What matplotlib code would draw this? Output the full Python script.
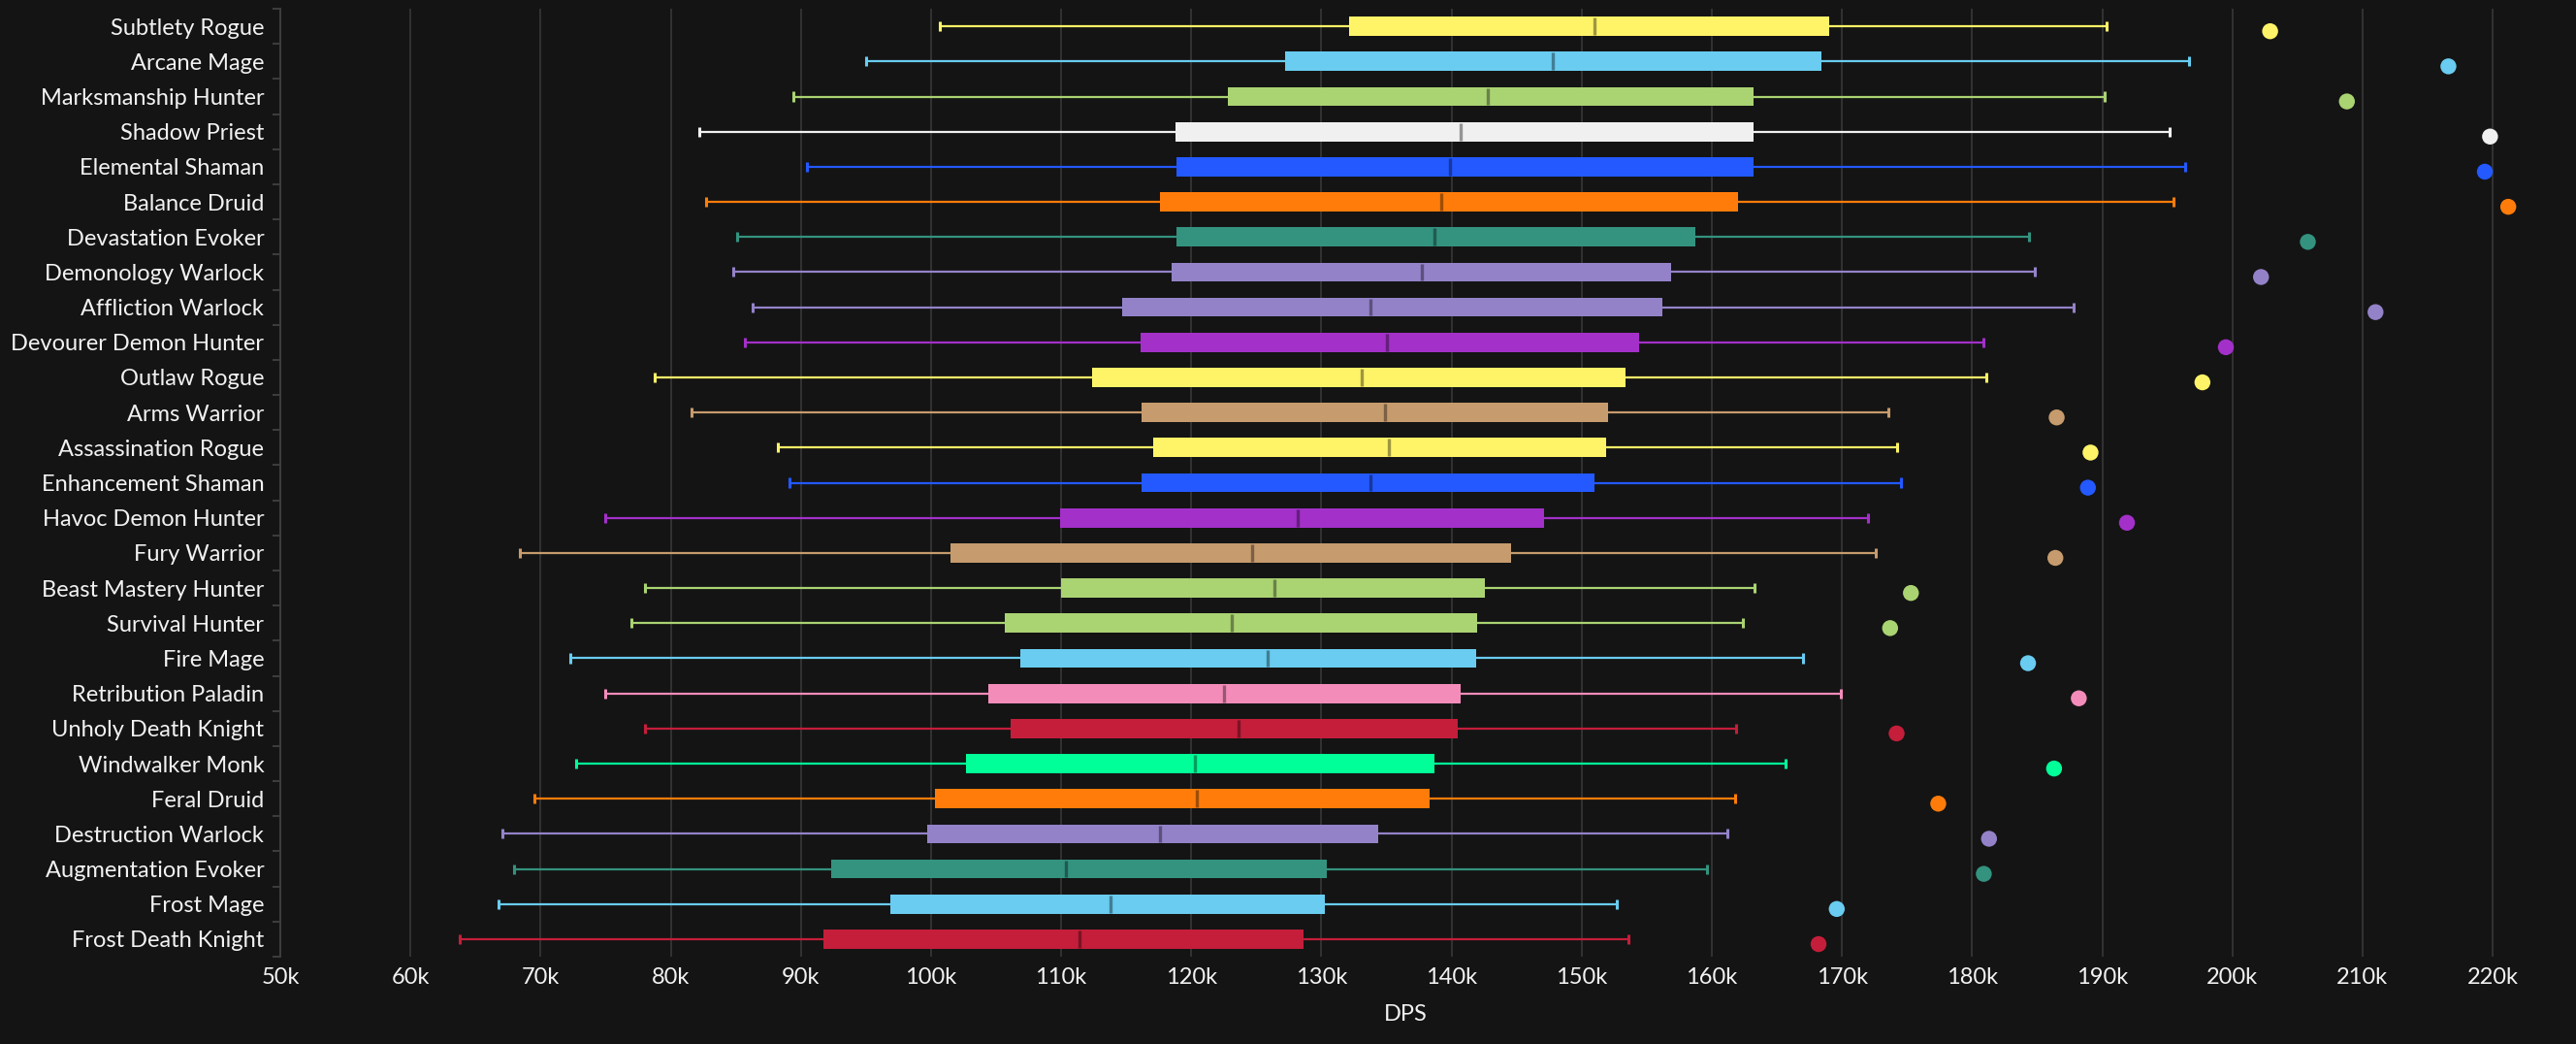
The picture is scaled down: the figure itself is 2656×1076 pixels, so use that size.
import numpy as np
import matplotlib
matplotlib.use('agg')
import matplotlib.pyplot as plt
from matplotlib.ticker import FuncFormatter, FixedLocator
from matplotlib.colors import to_rgb

# DPS distribution per spec, in thousands
specs = ["Subtlety Rogue", "Arcane Mage", "Marksmanship Hunter", "Shadow Priest",
         "Elemental Shaman", "Balance Druid", "Devastation Evoker", "Demonology Warlock",
         "Affliction Warlock", "Devourer Demon Hunter", "Outlaw Rogue", "Arms Warrior",
         "Assassination Rogue", "Enhancement Shaman", "Havoc Demon Hunter", "Fury Warrior",
         "Beast Mastery Hunter", "Survival Hunter", "Fire Mage", "Retribution Paladin",
         "Unholy Death Knight", "Windwalker Monk", "Feral Druid", "Destruction Warlock",
         "Augmentation Evoker", "Frost Mage", "Frost Death Knight"]
low = [100.7, 95.0, 89.4, 82.2, 90.5, 82.7, 85.1, 84.8, 86.3, 85.7, 78.8, 81.6, 88.2, 89.1,
       75.0, 68.4, 78.0, 77.0, 72.3, 75.0, 78.0, 72.7, 69.5, 67.1, 68.0, 66.8, 63.8]
q1 = [132.1, 127.2, 122.8, 118.8, 118.9, 117.6, 118.9, 118.5, 114.7, 116.1, 112.4, 116.2, 117.1,
      116.2, 109.9, 101.5, 110.0, 105.7, 106.9, 104.4, 106.1, 102.7, 100.3, 99.7, 92.3, 96.9, 91.7]
median = [151.0, 147.8, 142.8, 140.7, 139.9, 139.2, 138.7, 137.7, 133.8, 135.0, 133.1, 134.9,
          135.2, 133.8, 128.2, 124.7, 126.4, 123.1, 125.9, 122.5, 123.6, 120.3, 120.4, 117.6,
          110.4, 113.8, 111.4]
q3 = [169.0, 168.4, 163.2, 163.2, 163.2, 162.0, 158.7, 156.9, 156.2, 154.4, 153.4, 152.0, 151.9,
      151.0, 147.1, 144.6, 142.6, 142.0, 141.9, 140.7, 140.5, 138.7, 138.3, 134.4, 130.4, 130.3,
      128.6]
high = [190.3, 196.7, 190.2, 195.2, 196.4, 195.5, 184.4, 184.8, 187.8, 180.9, 181.1, 173.6, 174.2,
        174.5, 172.0, 172.6, 163.3, 162.4, 167.0, 169.9, 161.9, 165.7, 161.8, 161.2, 159.6, 152.7,
        153.6]
top = [202.9, 216.6, 208.8, 219.8, 219.4, 221.2, 205.8, 202.2, 211.0, 199.5, 197.7, 186.5, 189.1,
       188.9, 191.9, 186.4, 175.3, 173.7, 184.3, 188.2, 174.2, 186.3, 177.4, 181.3, 180.9, 169.6,
       168.2]

class_colors = {
    "Rogue": "#fff468", "Mage": "#69ccf0", "Hunter": "#aad372", "Priest": "#f0f0f0",
    "Shaman": "#2359ff", "Druid": "#ff7c0a", "Evoker": "#33937f", "Warlock": "#9482c9",
    "Demon Hunter": "#a330c9", "Warrior": "#c69b6d", "Paladin": "#f48cba",
    "Death Knight": "#c41e3a", "Monk": "#00ff98",
}


def spec_color(name):
    for cls in sorted(class_colors, key=len, reverse=True):
        if name.endswith(cls):
            return class_colors[cls]
    return "#ffffff"


colors = [spec_color(s) for s in specs]
dark = [tuple(c * 0.62 for c in to_rgb(col)) for col in colors]

bg = "#141414"
fg = "#f2f2f2"
plt.rcParams['font.family'] = ['Lato', 'DejaVu Sans']

fig = plt.figure(figsize=(26.56, 10.76), dpi=100, facecolor=bg)
ax = fig.add_axes([0.1088, 0.0836, 0.8740, 0.9080], facecolor=bg)

y = np.arange(len(specs))
box_h = 0.545

# whiskers + caps
ax.hlines(y, low, q1, colors=colors, lw=1.6, zorder=2)
ax.hlines(y, q3, high, colors=colors, lw=1.6, zorder=2)
ax.vlines(low, y - 0.14, y + 0.14, colors=colors, lw=2.2, zorder=2)
ax.vlines(high, y - 0.14, y + 0.14, colors=colors, lw=2.2, zorder=2)

# boxes
ax.barh(y, np.array(q3) - np.array(q1), left=q1, height=box_h, color=colors, zorder=3)
ax.vlines(median, y - box_h * 0.45, y + box_h * 0.45, colors=dark, lw=2.4, zorder=4)

# top values
ax.scatter(top, y + 0.14, s=140, c=colors, zorder=5, linewidths=0)

ax.set_xlim(50, 223)
ax.set_ylim(len(specs) - 0.5, -0.5)
ax.set_xticks(np.arange(50, 221, 10))
ax.xaxis.set_major_formatter(FuncFormatter(lambda v, p: f"{v:.0f}k"))
ax.set_yticks(y)
ax.set_yticklabels(specs)
ax.yaxis.set_minor_locator(FixedLocator(np.arange(-0.5, len(specs), 1.0)))

ax.grid(axis='x', color='#383838', lw=1.2, zorder=0)
for side in ['top', 'right', 'bottom']:
    ax.spines[side].set_visible(False)
ax.spines['left'].set_color('#3c3c3c')
ax.spines['left'].set_linewidth(1.5)

ax.tick_params(axis='x', length=0, pad=8, labelsize=17, labelcolor=fg)
ax.tick_params(axis='y', which='major', length=0, pad=12, labelsize=17, labelcolor=fg)
ax.tick_params(axis='y', which='minor', length=6, width=1.5, color='#3c3c3c')

ax.set_xlabel("DPS", color=fg, fontsize=17, labelpad=12)

fig.savefig("out.png", dpi=100, facecolor=bg)
